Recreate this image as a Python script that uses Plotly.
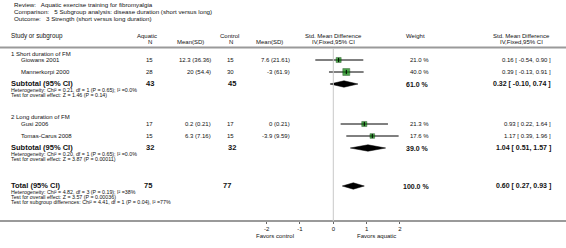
import plotly.graph_objects as go

# ---------------- data ----------------
title_lines = [
    "Review:   Aquatic exercise training for fibromyalgia",
    "Comparison:   5 Subgroup analysis: disease duration (short versus long)",
    "Outcome:   3 Strength (short versus long duration)",
]
group_labels = ["1 Short duration of FM", "2 Long duration of FM"]
studies = ["Giowans 2001", "Mannerkorpi 2000", "Gusi 2006", "Tomas-Carus 2008"]
study_group = [0, 0, 1, 1]
aq_n = [15, 28, 17, 15]
aq_msd = ["12.3 (36.36)", "20 (54.4)", "0.2 (0.21)", "6.3 (7.16)"]
ct_n = [15, 30, 17, 15]
ct_msd = ["7.6 (21.61)", "-3 (61.9)", "0 (0.21)", "-3.9 (9.59)"]
est = [0.16, 0.39, 0.93, 1.17]
lo = [-0.54, -0.13, 0.22, 0.39]
hi = [0.90, 0.91, 1.64, 1.96]
weight = [21.0, 40.0, 21.3, 17.6]

sub_aq_n = [43, 32]
sub_ct_n = [45, 32]
sub_est = [0.32, 1.04]
sub_lo = [-0.10, 0.51]
sub_hi = [0.74, 1.57]
sub_weight = [61.0, 39.0]
sub_het = [
    "Heterogeneity: Chi² = 0.21, df = 1 (P = 0.65); I² =0.0%",
    "Heterogeneity: Chi² = 0.20, df = 1 (P = 0.65); I² =0.0%",
]
sub_z = [
    "Test for overall effect: Z = 1.46 (P = 0.14)",
    "Test for overall effect: Z = 3.87 (P = 0.00011)",
]

tot_aq_n = 75
tot_ct_n = 77
tot_est = 0.60
tot_lo = 0.27
tot_hi = 0.93
tot_weight = 100.0
tot_notes = [
    "Heterogeneity: Chi² = 4.82, df = 3 (P = 0.19); I² =38%",
    "Test for overall effect: Z = 3.57 (P = 0.00036)",
    "Test for subgroup differences: Chi² = 4.41, df = 1 (P = 0.04), I² =77%",
]
tick_vals = [-2, -1, 0, 1, 2]
tick_text = ["-2", "-1", "0", "1", "2"]
favors = ["Favors control", "Favors aquatic"]

# ---------------- layout constants ----------------
W, H = 566, 248
FONT = "Liberation Sans, Arial, sans-serif"
GREEN = "#008000"
study_y = [60, 72, 124, 136]
group_label_y = [54, 117]
sub_y = [84, 148]
tot_y = 186
axis_y = 221
head_line_y = 47.5

def fmt_ci(e, l, h):
    return f"{e:.2f} [ {l:.2f}, {h:.2f} ]"

fig = go.Figure()

# CI lines for studies
xs, ys = [], []
for l, h, y in zip(lo, hi, study_y):
    xs += [l, h, None]
    ys += [y, y, None]
fig.add_trace(go.Scatter(x=xs, y=ys, mode="lines",
                         line=dict(color="#000", width=1), hoverinfo="skip"))
# squares
fig.add_trace(go.Scatter(x=est, y=study_y, mode="markers",
                         marker=dict(symbol="square", color=GREEN,
                                     size=[1.1 * w ** 0.5 for w in weight],
                                     line=dict(color="#004000", width=0.6)),
                         hoverinfo="skip"))
fig.add_trace(go.Scatter(x=est, y=study_y, mode="markers",
                         marker=dict(symbol="line-ns", size=3,
                                     line=dict(color="#000", width=1)),
                         hoverinfo="skip"))

# diamonds
def diamond(e, l, h, y, hh=3.2):
    fig.add_trace(go.Scatter(x=[l, e, h, e, l], y=[y, y - hh, y, y + hh, y],
                             mode="lines", fill="toself", fillcolor="#000",
                             line=dict(color="#000", width=0.5), hoverinfo="skip"))

for e, l, h, y in zip(sub_est, sub_lo, sub_hi, sub_y):
    diamond(e, l, h, y)
diamond(tot_est, tot_lo, tot_hi, tot_y)

shapes = [
    dict(type="line", xref="paper", yref="y", x0=0, x1=1, y0=head_line_y, y1=head_line_y,
         line=dict(color="#9a9a9a", width=2)),
    dict(type="line", xref="x", yref="y", x0=0, x1=0, y0=head_line_y + 1, y1=axis_y,
         line=dict(color="#c8c8c8", width=1)),
]

ann = []
def txt(s, px, y, anchor="left", size=6, bold=False, color="#111"):
    ann.append(dict(text=f"<b>{s}</b>" if bold else s, x=px / W, y=y, xref="paper", yref="y",
                    xanchor=anchor, yanchor="middle", showarrow=False,
                    font=dict(family=FONT, size=size, color=color)))

# titles
for i, t in enumerate(title_lines):
    txt(t, 12, 4.5 + 7 * i, size=6.2)

# headers
txt("Study or subgroup", 9, 36, size=6.3)
txt("Aquatic", 147, 36, "center")
txt("N", 150, 42, "center")
txt("Mean(SD)", 190, 42, "center")
txt("Control", 229, 36, "center")
txt("N", 231, 42, "center")
txt("Mean(SD)", 269, 42, "center")
txt("Std. Mean Difference", 333, 36, "center")
txt("IV,Fixed,95% CI", 333, 42, "center")
txt("Weight", 415, 36, "center")
txt("Std. Mean Difference", 521, 36, "center")
txt("IV,Fixed,95% CI", 521, 42, "center")

for g in range(2):
    txt(group_labels[g], 9, group_label_y[g])
for i, s in enumerate(studies):
    y = study_y[i]
    txt(s, 19, y)
    txt(str(aq_n[i]), 155, y, "right")
    txt(aq_msd[i], 213, y, "right")
    txt(str(ct_n[i]), 236, y, "right")
    txt(ct_msd[i], 292, y, "right")
    txt(f"{weight[i]:.1f} %", 431, y, "right")
    txt(fmt_ci(est[i], lo[i], hi[i]), 553, y, "right")

for g in range(2):
    y = sub_y[g]
    txt("Subtotal (95% CI)", 9, y - 0.5, size=7.5, bold=True)
    txt(str(sub_aq_n[g]), 150, y - 0.5, "center", size=7.5, bold=True)
    txt(str(sub_ct_n[g]), 232, y - 0.5, "center", size=7.5, bold=True)
    txt(f"{sub_weight[g]:.1f} %", 431, y, "right", size=7, bold=True)
    txt(fmt_ci(sub_est[g], sub_lo[g], sub_hi[g]), 553, y, "right", size=7, bold=True)
    txt(sub_het[g], 9, y + 5.5, size=5.3)
    txt(sub_z[g], 9, y + 10.5, size=5.3)

txt("Total (95% CI)", 9, tot_y - 0.5, size=7.5, bold=True)
txt(str(tot_aq_n), 148, tot_y - 0.5, "center", size=7.5, bold=True)
txt(str(tot_ct_n), 227, tot_y - 0.5, "center", size=7.5, bold=True)
txt(f"{tot_weight:.1f} %", 431, tot_y, "right", size=7, bold=True)
txt(fmt_ci(tot_est, tot_lo, tot_hi), 553, tot_y, "right", size=7, bold=True)
for k, s in enumerate(tot_notes):
    txt(s, 9, tot_y + 5.5 + 5 * k, size=5.3)

# favors labels (in data x units)
ann.append(dict(text=favors[0], x=-1.75, y=236, xref="x", yref="y", xanchor="center",
                yanchor="middle", showarrow=False, font=dict(family=FONT, size=6, color="#111")))
ann.append(dict(text=favors[1], x=1.3, y=236, xref="x", yref="y", xanchor="center",
                yanchor="middle", showarrow=False, font=dict(family=FONT, size=6, color="#111")))

# x axis: 0 at 333.3 px, 33.33 px per unit over full width
x0_px, ppu = 333.3, 33.33
xr = [-x0_px / ppu, (W - x0_px) / ppu]

fig.update_layout(
    width=W, height=H, margin=dict(l=0, r=0, t=0, b=0),
    paper_bgcolor="white", plot_bgcolor="white", showlegend=False,
    shapes=shapes, annotations=ann,
    xaxis=dict(range=xr, domain=[0, 1], anchor="free", position=(H - axis_y) / H,
               showline=True, linecolor="#9a9a9a", linewidth=2, showgrid=False,
               zeroline=False, tickvals=tick_vals, ticktext=tick_text,
               ticks="outside", ticklen=2, tickcolor="#666", tickwidth=1,
               tickfont=dict(family=FONT, size=6, color="#111"), fixedrange=True),
    yaxis=dict(range=[H, 0], domain=[0, 1], visible=False, fixedrange=True),
)
fig.write_html("out.html", config={"displayModeBar": False},
               post_script="document.body.style.margin='0';document.body.style.padding='0';")
